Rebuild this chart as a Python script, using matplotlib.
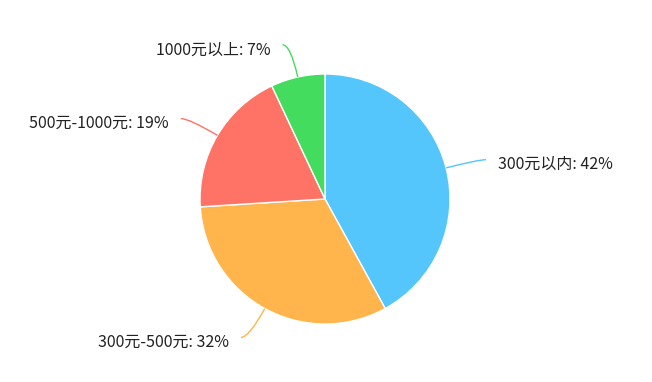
import numpy as np
import matplotlib
matplotlib.use("Agg")
import matplotlib.pyplot as plt
from matplotlib.path import Path
from matplotlib.patches import PathPatch

plt.rcParams['font.family'] = ['Noto Sans CJK SC', 'DejaVu Sans']

# data
labels = ['300元以内', '300元-500元', '500元-1000元', '1000元以上']
values = [42, 32, 19, 7]
colors = ['#55c6fc', '#ffb44c', '#ff7366', '#44dc5e']

W, H = 652, 382
fig = plt.figure(figsize=(W / 100, H / 100), dpi=100)
ax = fig.add_axes([0, 0, 1, 1])
ax.set_xlim(0, W)
ax.set_ylim(0, H)
ax.set_aspect('equal')
ax.axis('off')

cx, cy = 325, H - 199
r = 125
ax.pie(values, colors=colors, startangle=90, counterclock=False,
       center=(cx, cy), radius=r,
       wedgeprops=dict(edgecolor='white', linewidth=1))
ax.set_xlim(0, W)
ax.set_ylim(0, H)

len1, len2 = 33, 8
total = float(sum(values))
start = 90.0
for lab, v, c in zip(labels, values, colors):
    span = v / total * 360
    mid = np.deg2rad(start - span / 2)
    start -= span
    p0 = (cx + r * np.cos(mid), cy + r * np.sin(mid))
    p1 = (cx + (r + len1) * np.cos(mid), cy + (r + len1) * np.sin(mid))
    side = 1 if np.cos(mid) >= 0 else -1
    p2 = (p1[0] + side * len2, p1[1])
    path = Path([p0, p1, p2], [Path.MOVETO, Path.CURVE3, Path.CURVE3])
    ax.add_patch(PathPatch(path, fill=False, edgecolor=c, lw=1))
    ax.text(p2[0] + side * 12, p2[1] - 5, '%s: %d%%' % (lab, v),
            ha='left' if side > 0 else 'right', va='center',
            fontsize=11.5, color='#222222')

fig.savefig('out.png', dpi=100)
